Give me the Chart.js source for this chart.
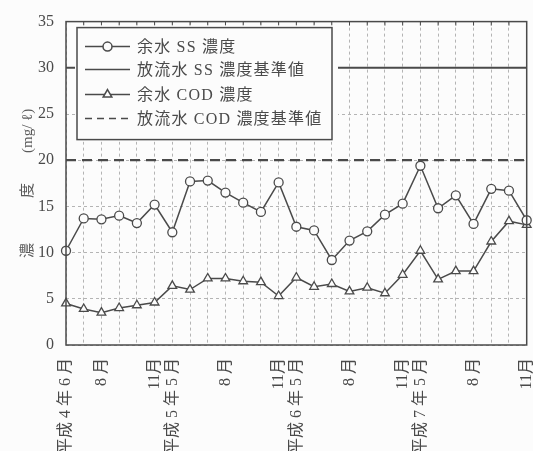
<!DOCTYPE html>
<html>
<head>
<meta charset="utf-8">
<script src="https://cdn.jsdelivr.net/npm/chart.js@4"></script>
<style>
  body { margin: 0; background: #fcfcfc; }
  #wrap { width: 533px; height: 451px; }
</style>
</head>
<body>
<div id="wrap"><canvas id="chart" width="533" height="451"></canvas></div>
<script>
// months: 平成4年6月 .. 平成7年11月 (Dec-Apr not sampled)
var monthLabels = ['平成 4 年 6 月', '', '8 月', '', '', '11月',
                   '平成 5 年 5 月', '', '', '8 月', '', '', '11月',
                   '平成 6 年 5 月', '', '', '8 月', '', '', '11月',
                   '平成 7 年 5 月', '', '', '8 月', '', '', '11月'];

// 余水 SS 濃度 (mg/l)
var ssValues = [10.2, 13.7, 13.6, 14.0, 13.2, 15.2, 12.2, 17.7, 17.8, 16.5, 15.4, 14.4, 17.6, 12.8,
                12.4, 9.2, 11.3, 12.3, 14.1, 15.3, 19.4, 14.8, 16.2, 13.1, 16.9, 16.7, 13.5];

// 余水 COD 濃度 (mg/l)
var codValues = [4.5, 3.9, 3.5, 4.0, 4.3, 4.6, 6.4, 6.0, 7.2, 7.2, 6.9, 6.8, 5.3, 7.3,
                 6.3, 6.6, 5.8, 6.2, 5.6, 7.6, 10.2, 7.1, 8.0, 8.0, 11.2, 13.4, 13.0];

// 放流水 基準値
var ssStandard = 30;
var codStandard = 20;

var ink = '#4a4a4a';
var gridColor = '#b4b4b4';
var fontFamily = "'Liberation Serif', 'Noto Sans CJK JP', serif";

var seriesNames = ['余水 SS 濃度', '放流水 SS 濃度基準値', '余水 COD 濃度', '放流水 COD 濃度基準値'];

//frame round the plot and the boxed legend inside it
var framePlugin = {
    id: 'frame',
    afterDatasetsDraw: function(chart) {
        var ctx = chart.ctx;
        var a = chart.chartArea;
        ctx.save();
        ctx.strokeStyle = ink;
        ctx.lineWidth = 1.5;
        ctx.strokeRect(a.left, a.top, a.right - a.left, a.bottom - a.top);

        //small inward ticks on the top border
        var xs = chart.scales.x;
        ctx.lineWidth = 1;
        for (var t = 1; t < monthLabels.length - 1; t++) {
            var tx = xs.getPixelForValue(t);
            ctx.beginPath();
            ctx.moveTo(tx, a.top);
            ctx.lineTo(tx, a.top + 4);
            ctx.stroke();
        }
        ctx.lineWidth = 1.5;

        //legend box
        var bx = a.left + 11, by = a.top + 6, bw = 255, bh = 112;
        ctx.fillStyle = '#fcfcfc';
        ctx.fillRect(bx - 2, by - 2, bw + 8, bh + 4);
        ctx.strokeRect(bx, by, bw, bh);

        var rows = [25, 48, 73, 97];
        ctx.font = '16px ' + fontFamily;
        ctx.letterSpacing = '1.2px';
        ctx.textBaseline = 'middle';
        for (var i = 0; i < 4; i++) {
            var y = a.top + rows[i];
            var x0 = bx + 8, x1 = bx + 53;
            ctx.strokeStyle = ink;
            ctx.lineWidth = 1.5;
            ctx.setLineDash(i === 3 ? [7, 5] : []);
            ctx.beginPath();
            ctx.moveTo(x0, y);
            ctx.lineTo(x1, y);
            ctx.stroke();
            ctx.setLineDash([]);
            var mx = (x0 + x1) / 2;
            if (i === 0) {
                ctx.beginPath();
                ctx.arc(mx, y, 4.5, 0, Math.PI * 2);
                ctx.fillStyle = '#fcfcfc';
                ctx.fill();
                ctx.stroke();
            }
            if (i === 2) {
                var r = 5;
                ctx.beginPath();
                ctx.moveTo(mx, y - r);
                ctx.lineTo(mx + r * Math.sin(2 * Math.PI / 3), y - r * Math.cos(2 * Math.PI / 3));
                ctx.lineTo(mx + r * Math.sin(4 * Math.PI / 3), y - r * Math.cos(4 * Math.PI / 3));
                ctx.closePath();
                ctx.fillStyle = '#fcfcfc';
                ctx.fill();
                ctx.stroke();
            }
            ctx.fillStyle = ink;
            ctx.fillText(seriesNames[i], bx + 60, y + 1);
        }
        ctx.restore();
    }
};

var ctx = document.getElementById('chart');

var chart = new Chart(ctx, {
    type: 'line',
    data: {
        labels: monthLabels,
        datasets: [
            {
                label: seriesNames[0],
                data: ssValues,
                borderColor: ink,
                backgroundColor: '#fcfcfc',
                borderWidth: 1.5,
                pointStyle: 'circle',
                pointRadius: 4.5,
                pointBorderWidth: 1.3,
                fill: false,
                clip: false
            },
            {
                label: seriesNames[1],
                data: monthLabels.map(function() { return ssStandard; }),
                borderColor: ink,
                borderWidth: 2,
                pointRadius: 0,
                fill: false
            },
            {
                label: seriesNames[2],
                data: codValues,
                borderColor: ink,
                backgroundColor: '#fcfcfc',
                borderWidth: 1.5,
                pointStyle: 'triangle',
                pointRadius: 5,
                pointBorderWidth: 1.3,
                fill: false,
                clip: false
            },
            {
                label: seriesNames[3],
                data: monthLabels.map(function() { return codStandard; }),
                borderColor: ink,
                borderWidth: 2.2,
                borderDash: [10, 6],
                pointRadius: 0,
                fill: false
            }
        ]
    },
    options: {
        responsive: false,
        animation: false,
        layout: { padding: { top: 18, right: 3, left: 0, bottom: 0 } },
        plugins: {
            legend: { display: false },
            tooltip: { enabled: false }
        },
        scales: {
            x: {
                grid: { color: gridColor, lineWidth: 1, drawTicks: false },
                border: { display: false, dash: [3, 3] },
                ticks: {
                    autoSkip: false,
                    minRotation: 90,
                    maxRotation: 90,
                    padding: 13,
                    color: ink,
                    font: { family: fontFamily, size: 16 }
                },
                afterFit: function(scale) {
                    scale.height = 106;
                    //labels may stick out at the edge like in the print
                    scale.paddingLeft = 0;
                    scale.paddingRight = 0;
                }
            },
            y: {
                min: 0,
                max: 35,
                ticks: {
                    stepSize: 5,
                    padding: 12,
                    color: ink,
                    font: { family: fontFamily, size: 16 }
                },
                grid: { color: gridColor, lineWidth: 1, drawTicks: false },
                border: { display: false, dash: [3, 3] },
                title: {
                    display: true,
                    text: '濃　　　度　　(mg/ ℓ)',
                    color: '#5a5a5a',
                    padding: { top: 19, bottom: 0 },
                    font: { family: fontFamily, size: 15 }
                },
                afterFit: function(scale) { scale.width = 66; }
            }
        }
    },
    plugins: [framePlugin]
});
</script>
</body>
</html>
